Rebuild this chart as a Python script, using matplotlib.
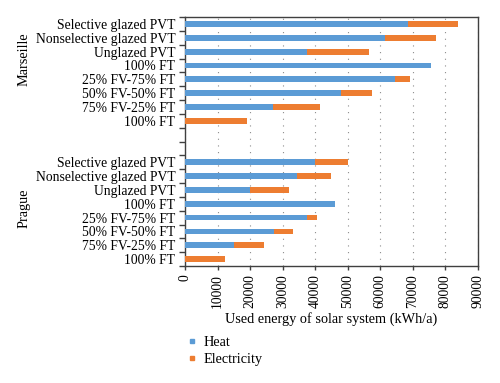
import matplotlib.pyplot as plt
from matplotlib.lines import Line2D

plt.rcParams['font.family'] = ['Liberation Serif', 'DejaVu Serif']

# category labels, top to bottom inside each group
configs = ['Selective glazed PVT', 'Nonselective glazed PVT', 'Unglazed PVT', '100% FT',
           '25% FV-75% FT', '50% FV-50% FT', '75% FV-25% FT', '100% FT']
groups = ['Marseille', 'Prague']

# used energy (kWh/a)
marseille_heat = [68500, 61500, 37500, 75500, 64500, 48000, 27000, 0]
marseille_elec = [15500, 15500, 19000, 0, 4500, 9500, 14500, 19000]
prague_heat = [40000, 34300, 20000, 46000, 37500, 27200, 15000, 0]
prague_elec = [10000, 10400, 12000, 0, 3100, 6100, 9200, 12200]

xticks = [0, 10000, 20000, 30000, 40000, 50000, 60000, 70000, 80000, 90000]

blue = '#5b9bd5'
orange = '#ed7d31'

fig = plt.figure(figsize=(5, 3.83), dpi=100)
ax = fig.add_axes([0.37, 0.3055, 0.586, 0.65])

# two blank slots between the groups
gap = 2
n = len(configs)
ypos_m = list(range(n))
ypos_p = [n + gap + i for i in range(n)]

bh = 0.42
ax.barh(ypos_m, marseille_heat, height=bh, color=blue, zorder=3)
ax.barh(ypos_m, marseille_elec, left=marseille_heat, height=bh, color=orange, zorder=3)
ax.barh(ypos_p, prague_heat, height=bh, color=blue, zorder=3)
ax.barh(ypos_p, prague_elec, left=prague_heat, height=bh, color=orange, zorder=3)

total = 2 * n + gap
ax.set_ylim(total - 0.5, -0.5)
ax.set_xlim(0, 90000)

# labels sit on the category centers, tick marks on the boundaries
ax.set_yticks(ypos_m + ypos_p)
ax.set_yticklabels(configs + configs, fontsize=9.8)
ax.tick_params(axis='y', length=0, pad=7)
ax.set_yticks([i - 0.5 for i in range(total + 1)], minor=True)
ax.tick_params(axis='y', which='minor', length=4, color='#404040', width=1.0)

ax.set_xticks(xticks)
ax.set_xticklabels([str(v) for v in xticks], rotation=90, fontsize=9.8)
ax.tick_params(axis='x', length=3, color='#404040', width=1.0, pad=3)

ax.xaxis.grid(True, linestyle=(0, (1, 5)), color='#8c8c8c', linewidth=0.8, zorder=0)
for s in ax.spines.values():
    s.set_color('#404040')
    s.set_linewidth(1.0)

ax.set_xlabel('Used energy of solar system (kWh/a)', fontsize=10.3, labelpad=3)

# group names
fig.text(0.048, 1 - 59 / 383, groups[0], rotation=90, fontsize=10.3, ha='center', va='center')
fig.text(0.048, 1 - 208 / 383, groups[1], rotation=90, fontsize=10.3, ha='center', va='center')

handles = [Line2D([], [], marker='s', linestyle='none', color=blue, markersize=3),
           Line2D([], [], marker='s', linestyle='none', color=orange, markersize=3)]
fig.legend(handles, ['Heat', 'Electricity'], loc='upper left',
           bbox_to_anchor=(0.362, 1 - 329 / 383), frameon=False, fontsize=10.3,
           handlelength=0.5, handletextpad=0.6, labelspacing=0.3, borderpad=0)

plt.savefig('out.png', dpi=100)
